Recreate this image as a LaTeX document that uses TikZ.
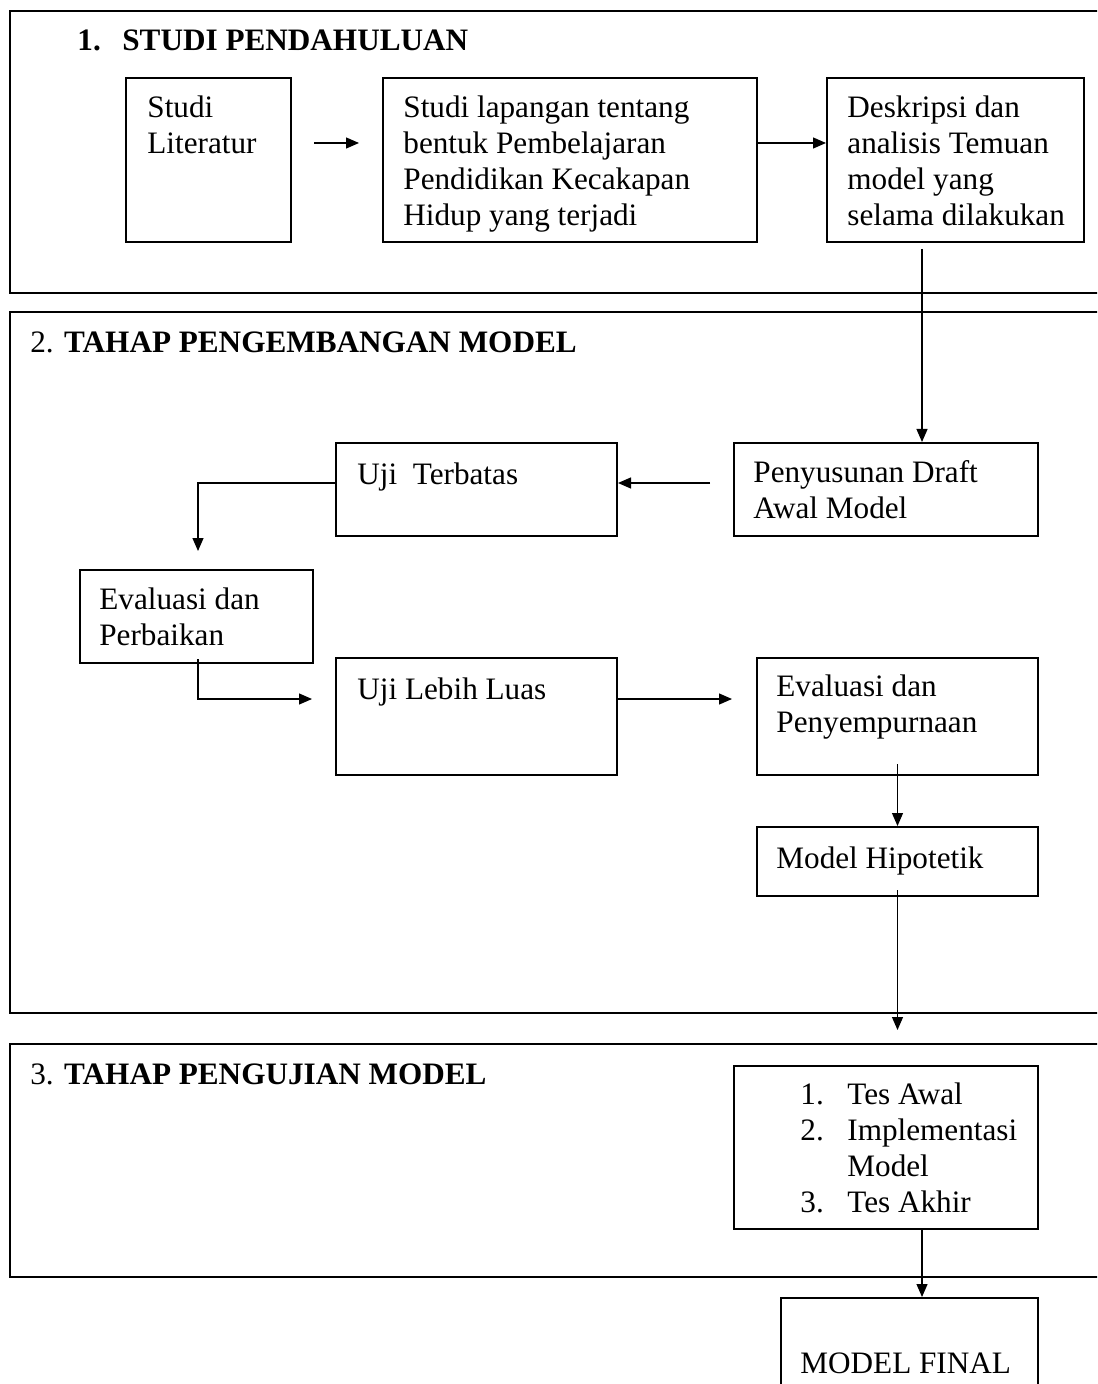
\documentclass[tikz,border=0pt]{standalone}
\usepackage{fontspec}
\setmainfont{Liberation Serif}
\usetikzlibrary{arrows.meta,fit,calc}
\begin{document}
\begin{tikzpicture}[x=0.5pt,y=-0.5pt,
  box/.style={draw, line width=1pt, inner sep=0pt},
  sect/.style={draw, line width=1pt, inner sep=0pt},
  txt/.style={inner sep=0pt, anchor=north west, align=left, font=\fontsize{15.6pt}{18pt}\selectfont, execute at begin node=\strut},
  arr/.style={-{Triangle[length=6.5pt,width=5.5pt]}, line width=0.6pt},
  ln/.style={line width=0.6pt}]
\useasboundingbox (0,0) rectangle (1097,1384);
\clip (0,0) rectangle (1097,1384);

% sections (open to the right)
\node[sect, fit={(10,11) (1120,293)}] (S1) {};
\node[sect, fit={(10,312) (1120,1013)}] (S2) {};
\node[sect, fit={(10,1044) (1120,1277)}] (S3) {};

\node[txt] (T1) at (77,24.8) {\textbf{\makebox[22.5pt][l]{1.}STUDI PENDAHULUAN}};
\node[txt] (T2) at (30,326.8) {2. \textbf{TAHAP PENGEMBANGAN MODEL}};
\node[txt] (T3) at (30,1058.8) {3. \textbf{TAHAP PENGUJIAN MODEL}};

% boxes
\node[box, fit={(126,78) (291,242)}] (SL) {};
\node[box, fit={(383,78) (757,242)}] (SF) {};
\node[box, fit={(827,78) (1084,242)}] (DA) {};
\node[box, fit={(336,443) (617,536)}] (UT) {};
\node[box, fit={(734,443) (1038,536)}] (PD) {};
\node[box, fit={(80,570) (313,663)}] (EP) {};
\node[box, fit={(336,658) (617,775)}] (ULL) {};
\node[box, fit={(757,658) (1038,775)}] (EPn) {};
\node[box, fit={(757,827) (1038,896)}] (MH) {};
\node[box, fit={(734,1066) (1038,1229)}] (TS) {};
\node[box, fit={(781,1298) (1038,1440)}] (MF) {};

% texts
\node[txt] (tSL) at (147,95.5) {Studi\\Literatur};
\node[txt] (tSF) at (403,95.5) {Studi lapangan tentang\\bentuk Pembelajaran\\Pendidikan Kecakapan\\Hidup yang terjadi};
\node[txt] (tDA) at (847,95.5) {Deskripsi dan\\analisis Temuan\\model yang\\selama dilakukan};
\node[txt] (tUT) at (357,458.5) {Uji~ Terbatas};
\node[txt] (tPD) at (753,460.5) {Penyusunan Draft\\Awal Model};
\node[txt] (tEP) at (99,587.5) {Evaluasi dan\\Perbaikan};
\node[txt] (tULL) at (357,673.5) {Uji Lebih Luas};
\node[txt] (tEPn) at (776,674.5) {Evaluasi dan\\Penyempurnaan};
\node[txt] (tMH) at (776,842.5) {Model Hipotetik};
\node[txt] (tTS) at (800,1082.5) {\makebox[23.5pt][l]{1.}Tes Awal\\\makebox[23.5pt][l]{2.}Implementasi\\\hspace*{23.5pt}Model\\\makebox[23.5pt][l]{3.}Tes Akhir};
\node[txt] (tMF) at (800,1347.8) {MODEL FINAL};

% connectors
\draw[arr, shorten <=11pt, shorten >=11.5pt] ([yshift=8.5pt]SL.east) -- ([yshift=8.5pt]SF.west);
\draw[arr] ([yshift=8.5pt]SF.east) -- ([yshift=8.5pt]DA.west);
\draw[arr] ([xshift=-16.75pt,yshift=-3pt]DA.south) -- ([xshift=18pt]PD.north);
\draw[arr, shorten <=11.5pt] ([yshift=3.25pt]PD.west) -- ([yshift=3.25pt]UT.east);
\draw[arr, shorten >=9pt] ([yshift=3.25pt]UT.west) -| ([xshift=0.75pt]EP.north);
\draw[arr, shorten >=11.5pt] ([xshift=0.75pt,yshift=2.5pt]EP.south) |- ([yshift=8.75pt]ULL.west);
\draw[arr, shorten >=12pt] ([yshift=8.75pt]ULL.east) -- ([yshift=8.75pt]EPn.west);
\draw[arr] ([yshift=6pt]EPn.south) -- (MH.north);
\draw[arr, shorten >=6.5pt] ([yshift=3.5pt]MH.south) -- (MH.south |- S3.north);
\draw[arr] ([xshift=18pt]TS.south) -- ([xshift=18pt]TS.south |- MF.north);
\end{tikzpicture}
\end{document}
